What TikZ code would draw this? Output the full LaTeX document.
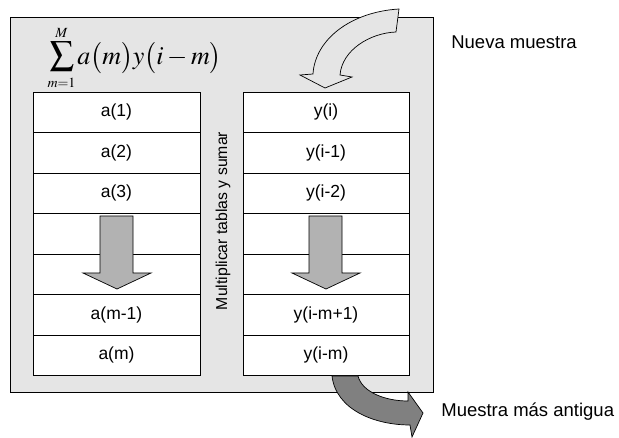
\documentclass[tikz,border=0pt]{standalone}
\usepackage{mathptmx}
\usepackage{fontspec}
\setmainfont{Liberation Sans}
\usetikzlibrary{calc}
\colorlet{boxgray}{gray!20}
\colorlet{arrowgray}{gray!60}
\colorlet{oldgray}{gray}
\tikzset{
    cell/.style={draw, fill=white, minimum width=166pt, minimum height=40.5pt,
        inner sep=0pt, font=\fontsize{17.5}{19}\selectfont},
    sidelabel/.style={anchor=west, inner sep=0pt, font=\fontsize{18.5}{21}\selectfont},
    limit/.style={anchor=base, inner sep=0pt, font=\fontsize{14}{14}\selectfont}
}

\begin{document}
\begin{tikzpicture}[x=1pt,y=-1pt,line width=.7pt]
    \useasboundingbox (0,0) rectangle (619,438);
    \draw[fill=boxgray] (10,17) rectangle (433,392);
    % new sample
    \draw[fill=boxgray] (399,9) .. controls (350,12) and (315,40) .. (313,74)
        -- (300,75) -- (325,88) -- (352,77) -- (340,75)
        .. controls (342,50) and (370,33) .. (396,32) -- cycle;
    % formula
    \node[inner sep=0pt] (sumsign) at (62,56.5) {\fontsize{24}{28}\selectfont$\displaystyle\sum$};
    \node[limit] (supM) at (61.5,38) {$M$};
    \node[limit] (subm) at (61.5,88) {$m{=}1$};
    \node[anchor=base west, inner sep=0pt] (terms) at (77,65)
        {\fontsize{26}{25}\selectfont$a\bigl(m\bigr)y\bigl(i-m\bigr)$};
    \foreach \la/\lb [count=\i] in {{a(1)}/{y(i)}, {a(2)}/{y(i-1)}, {a(3)}/{y(i-2)},
            {}/{}, {}/{}, {a(m-1)}/{y(i-m+1)}, {a(m)}/{y(i-m)}} {
        \node[cell, minimum width=167pt] (a\i) at (116.5, {92+40.5*(\i-.5)}) {\la};
        \node[cell] (y\i) at (326, {92+40.5*(\i-.5)}) {\lb};
    }
    % shift arrows
    \draw[fill=arrowgray] (100,216) -- (133,216) -- (133,273) -- (151,273)
        -- (117,289) -- (83,273) -- (100,273) -- cycle;
    \draw[fill=arrowgray] (309,216) -- (342,216) -- (342,273) -- (360,273)
        -- (326,289) -- (292,273) -- (309,273) -- cycle;
    \node[rotate=90, inner sep=0pt, font=\fontsize{15.8}{17}\selectfont] (mult) at (223,221)
        {Multiplicar tablas y sumar};
    % oldest sample
    \draw[fill=oldgray] (332,376) .. controls (336,410) and (375,425) .. (410,425)
        -- (412,437) -- (423,413) -- (408,392) -- (408,401)
        .. controls (385,401) and (362,392) .. (358,376) -- cycle;
    \node[sidelabel] (nueva) at (451,42) {Nueva muestra};
    \node[sidelabel] (antigua) at (441,412) {Muestra más antigua};
\end{tikzpicture}
\end{document}
